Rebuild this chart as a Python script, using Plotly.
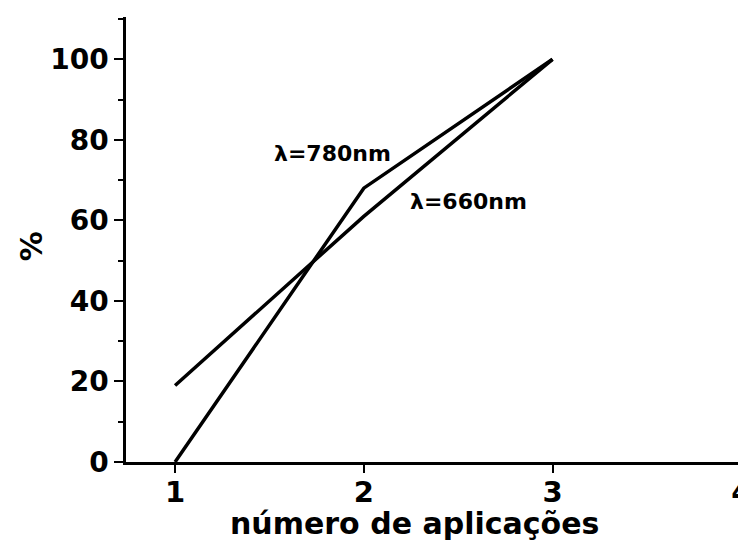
import plotly.graph_objects as go

x_vals = [1, 2, 3]
y_780 = [0, 68, 100]
y_660 = [19, 61, 100]
label_780 = "λ=780nm"
label_660 = "λ=660nm"
x_ticks = [1, 2, 3, 4]
y_ticks = [0, 20, 40, 60, 80, 100]
y_minor = [10, 30, 50, 70, 90, 110]
x_title = "número de aplicações"
y_title = "%"

FONT = "DejaVu Sans, sans-serif"

fig = go.Figure()
fig.add_trace(go.Scatter(x=x_vals, y=y_780, mode="lines", line=dict(color="black", width=3.5), name=label_780))
fig.add_trace(go.Scatter(x=x_vals, y=y_660, mode="lines", line=dict(color="black", width=3.5), name=label_660))

fig.add_annotation(x=1.835, y=76.7, text="<b>" + label_780 + "</b>", showarrow=False,
                   font=dict(family=FONT, size=22, color="black"))
fig.add_annotation(x=2.555, y=64.8, text="<b>" + label_660 + "</b>", showarrow=False,
                   font=dict(family=FONT, size=22, color="black"))

# axis titles
fig.add_annotation(xref="paper", yref="paper", x=0.469, y=0, yanchor="middle", yshift=-61,
                   text="<b>" + x_title + "</b>", showarrow=False,
                   font=dict(family=FONT, size=30, color="black"))
fig.add_annotation(xref="paper", yref="paper", x=0, y=0.485, xanchor="center", xshift=-95,
                   text="<b>" + y_title + "</b>", showarrow=False, textangle=-90,
                   font=dict(family=FONT, size=30, color="black"))

# the page body has an 8px margin, so the figure is sized/offset to land on the 746x544 window
fig.update_layout(
    width=738, height=536,
    margin=dict(l=118, r=4, t=9, b=82),
    paper_bgcolor="white", plot_bgcolor="white",
    showlegend=False,
    font=dict(family=FONT, color="black"),
)
fig.update_xaxes(
    range=[0.74, 4.004], tickvals=x_ticks, ticktext=["<b>%d</b>" % v for v in x_ticks],
    showline=True, linecolor="black", linewidth=2.5, showgrid=False, zeroline=False,
    ticks="outside", ticklen=8, tickwidth=2, tickcolor="black", automargin=False,
    tickfont=dict(family=FONT, size=29, color="black"),
    ticklabelstandoff=-6, ticklabeloverflow="allow",
)
fig.update_yaxes(
    range=[0, 110.5], tickvals=y_ticks, ticktext=["<b>%d</b>" % v for v in y_ticks],
    showline=True, linecolor="black", linewidth=2.5, showgrid=False, zeroline=False,
    ticks="outside", ticklen=9, tickwidth=2, tickcolor="black", automargin=False,
    minor=dict(tickvals=y_minor, ticks="outside", ticklen=5, tickwidth=2, tickcolor="black"),
    tickfont=dict(family=FONT, size=28, color="black"),
)

fig.write_html("out.html")
